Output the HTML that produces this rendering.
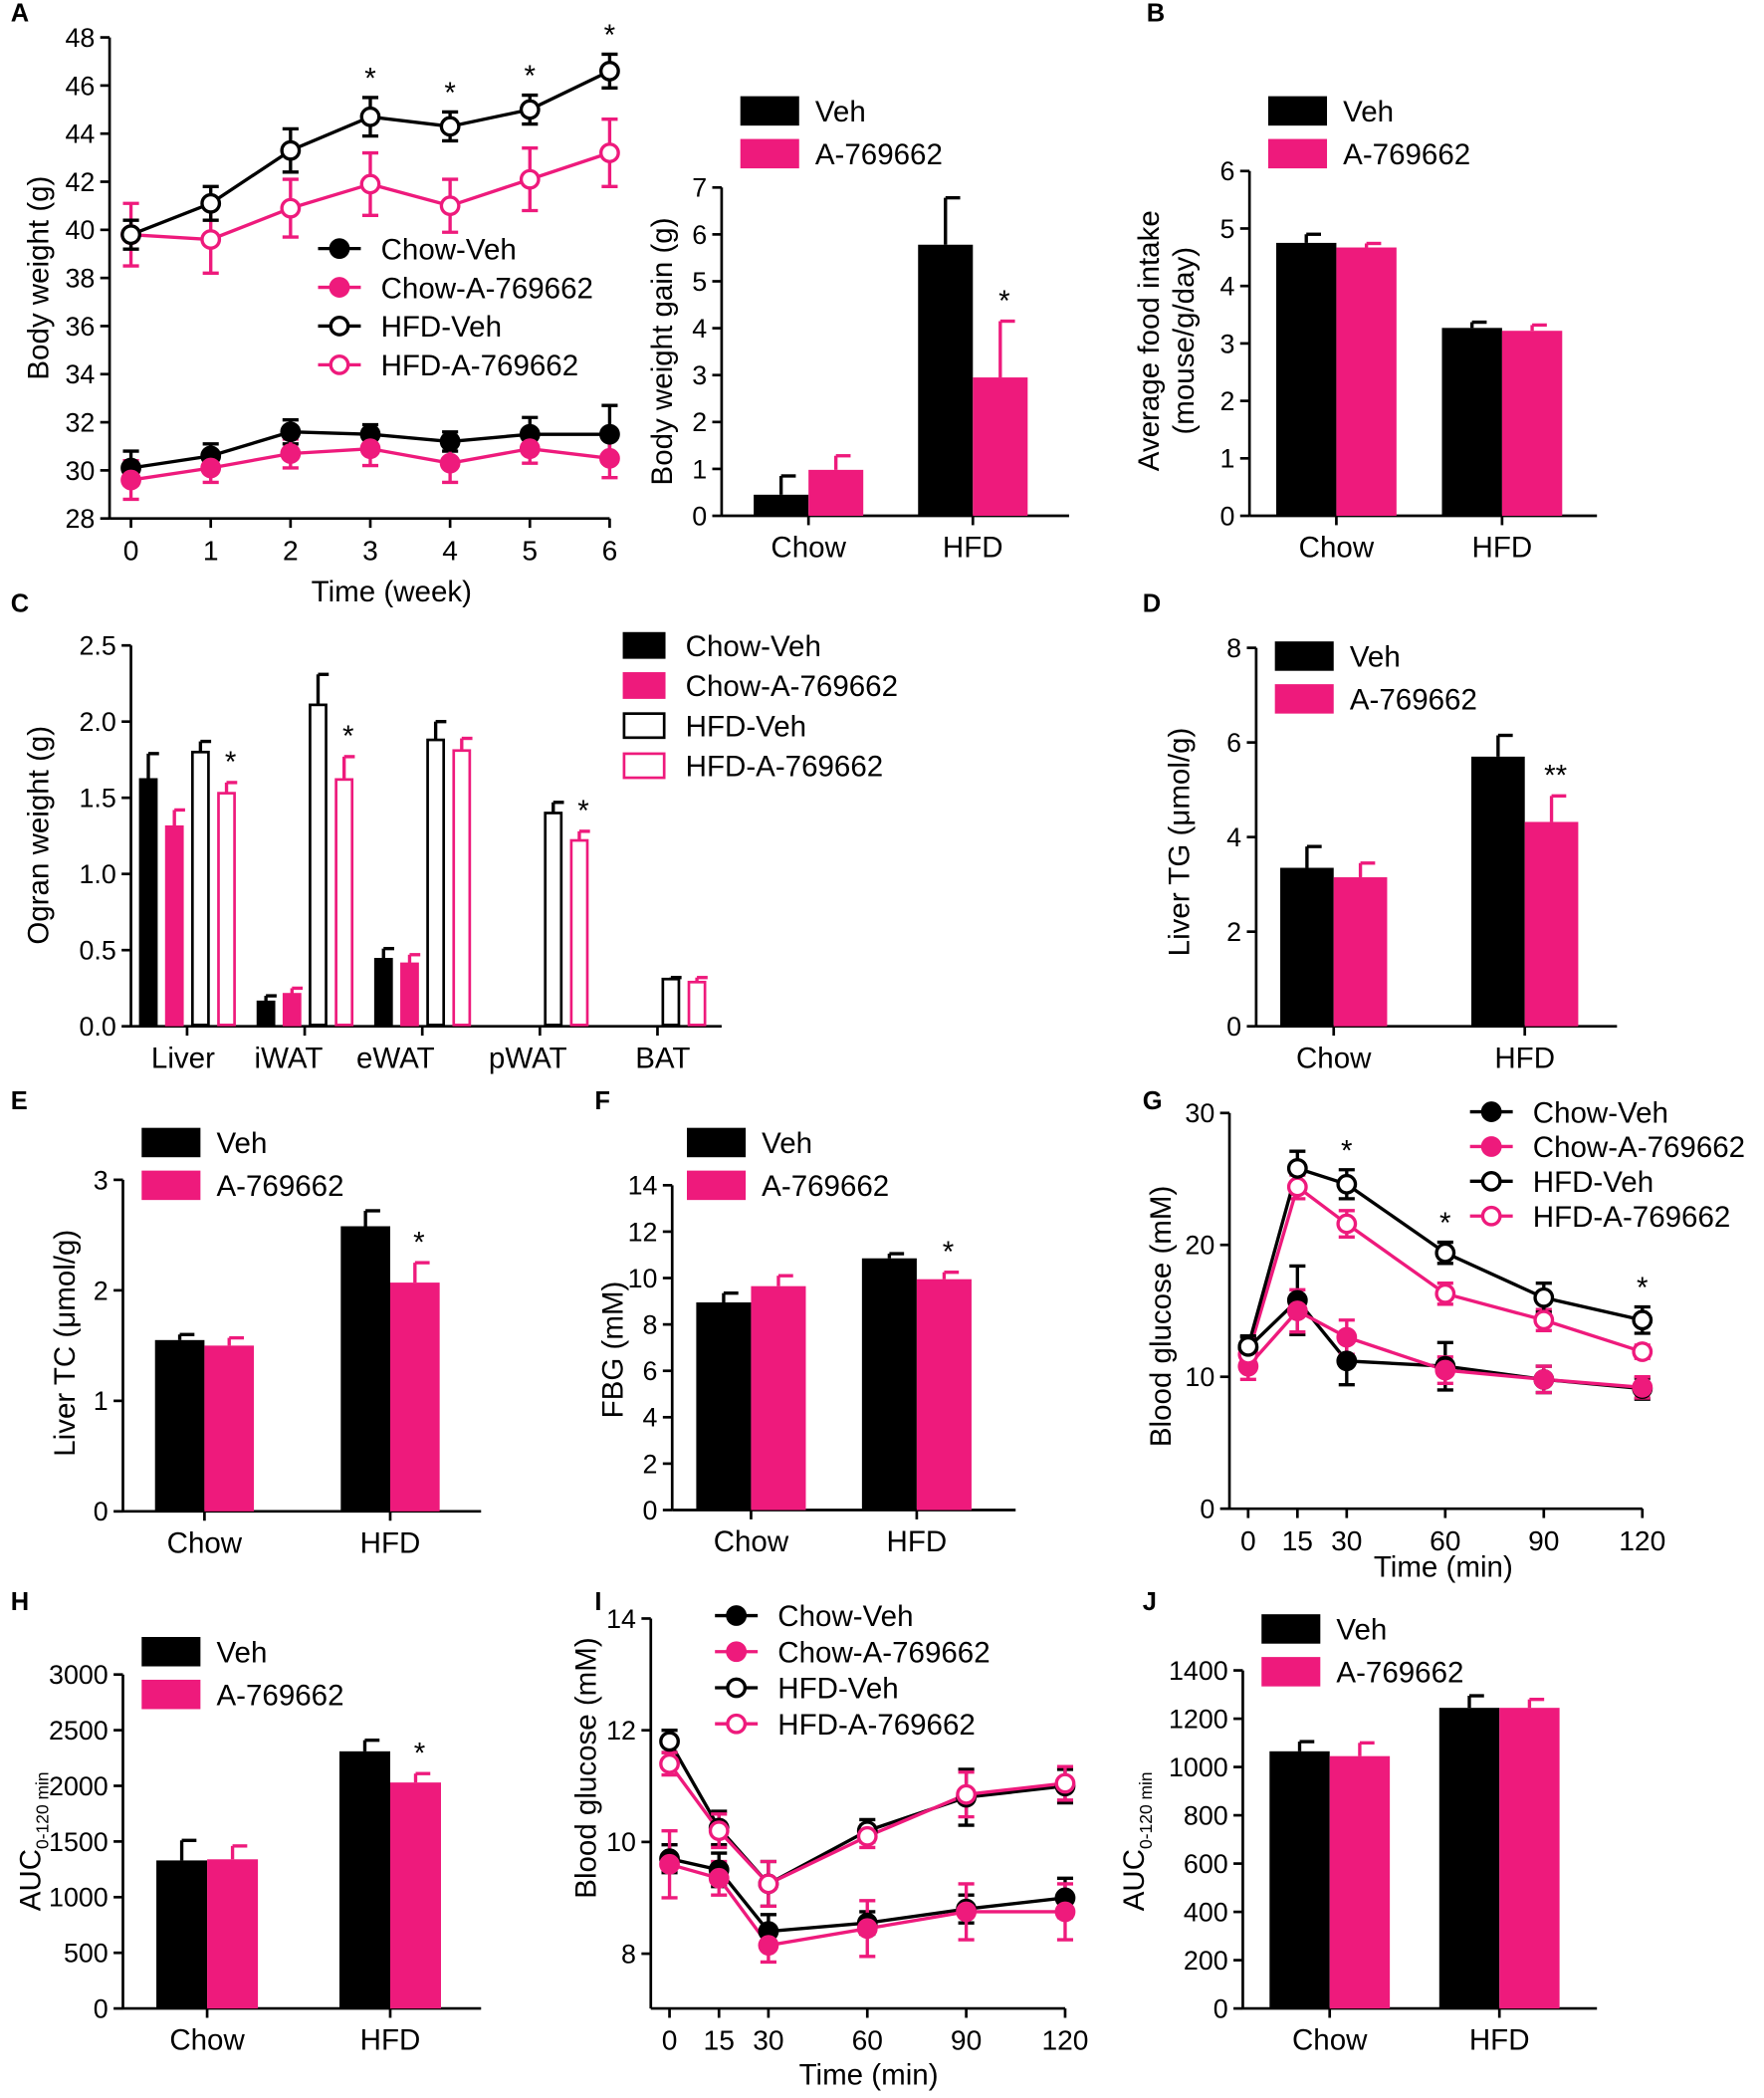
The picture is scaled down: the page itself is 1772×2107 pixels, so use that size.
<!DOCTYPE html>
<html><head><meta charset="utf-8">
<style>
html,body{margin:0;padding:0;background:#fff;}
svg{display:block;font-family:"Liberation Sans",Arial,sans-serif;}
</style></head>
<body>
<svg id="fig" width="1772" height="2107" viewBox="0 0 1320 1570" preserveAspectRatio="none" xmlns="http://www.w3.org/2000/svg"></svg>
<script>
const PINK = '#ee1a7c';
// ---------- DATA ----------
const weeks = [0,1,2,3,4,5,6];
const aChowVeh = [30.1,30.6,31.6,31.5,31.2,31.5,31.5];
const aChowVehErr = [0.7,0.5,0.5,0.4,0.4,0.7,1.2];
const aChowA = [29.6,30.1,30.7,30.9,30.3,30.9,30.5];
const aChowAErr = [0.8,0.6,0.6,0.7,0.8,0.6,0.8];
const aHfdVeh = [39.8,41.1,43.3,44.7,44.3,45.0,46.6];
const aHfdVehErr = [0.6,0.7,0.9,0.8,0.6,0.6,0.7];
const aHfdA = [39.8,39.6,40.9,41.9,41.0,42.1,43.2];
const aHfdAErr = [1.3,1.4,1.2,1.3,1.1,1.3,1.4];
const aStars = [3,4,5,6];
const aTicksY = [28,30,32,34,36,38,40,42,44,46,48];

const dietCats = ['Chow','HFD'];
const gainVeh = [0.45,5.78], gainVehErr=[0.4,1.0];
const gainA = [0.98,2.95], gainAErr=[0.3,1.2];
const gainTicks=[0,1,2,3,4,5,6,7];

const foodVeh=[4.75,3.27], foodVehErr=[0.15,0.1];
const foodA=[4.67,3.22], foodAErr=[0.07,0.1];
const foodTicks=[0,1,2,3,4,5,6];

const organCats=['Liver','iWAT','eWAT','pWAT','BAT'];
const orgChowVeh=[1.62,0.16,0.44,null,null], orgChowVehErr=[0.17,0.04,0.07,0,0];
const orgChowA=[1.31,0.21,0.41,null,null], orgChowAErr=[0.11,0.04,0.06,0,0];
const orgHfdVeh=[1.80,2.11,1.88,1.40,0.31], orgHfdVehErr=[0.07,0.2,0.12,0.07,0.01];
const orgHfdA=[1.53,1.62,1.81,1.22,0.29], orgHfdAErr=[0.07,0.15,0.08,0.06,0.03];
const orgStars=[true,true,false,true,false];
const orgTicks=['0.0','0.5','1.0','1.5','2.0','2.5'];

const tgVeh=[3.35,5.7], tgVehErr=[0.45,0.45];
const tgA=[3.15,4.32], tgAErr=[0.3,0.55];
const tgTicks=[0,2,4,6,8];

const tcVeh=[1.55,2.58], tcVehErr=[0.05,0.14];
const tcA=[1.5,2.07], tcAErr=[0.07,0.18];
const tcTicks=[0,1,2,3];

const fbgVeh=[8.95,10.85], fbgVehErr=[0.4,0.2];
const fbgA=[9.65,9.95], fbgAErr=[0.45,0.3];
const fbgTicks=[0,2,4,6,8,10,12,14];

const minutes=[0,15,30,60,90,120];
const gChowVeh=[12.2,15.8,11.2,10.8,9.8,9.1], gChowVehErr=[0.8,2.6,1.8,1.8,1.0,0.8];
const gChowA=[10.8,15.0,13.0,10.5,9.8,9.2], gChowAErr=[1.0,1.6,1.3,1.0,1.0,0.8];
const gHfdVeh=[12.3,25.8,24.6,19.4,16.0,14.3], gHfdVehErr=[0.8,1.3,1.1,0.8,1.1,1.0];
const gHfdA=[11.7,24.4,21.6,16.3,14.3,11.9], gHfdAErr=[0.8,0.9,1.0,0.8,0.8,0.5];
const gStars=[30,60,120];
const gTicksY=[0,10,20,30];

const hVeh=[1330,2310], hVehErr=[180,100];
const hA=[1340,2030], hAErr=[120,80];
const hTicks=[0,500,1000,1500,2000,2500,3000];

const iChowVeh=[9.7,9.5,8.4,8.55,8.8,9.0], iChowVehErr=[0.25,0.3,0.3,0.2,0.25,0.35];
const iChowA=[9.6,9.35,8.15,8.45,8.75,8.75], iChowAErr=[0.6,0.3,0.3,0.5,0.5,0.5];
const iHfdVeh=[11.8,10.25,9.25,10.2,10.8,11.0], iHfdVehErr=[0.2,0.3,0.4,0.2,0.5,0.3];
const iHfdA=[11.4,10.2,9.25,10.1,10.85,11.05], iHfdAErr=[0.2,0.3,0.4,0.2,0.4,0.3];
const iTicksY=[8,10,12,14];

const jVeh=[1065,1245], jVehErr=[40,50];
const jA=[1045,1245], jAErr=[55,35];
const jTicks=[0,200,400,600,800,1000,1200,1400];

// ---------- HELPERS ----------
const svg=document.getElementById('fig');
const NS='http://www.w3.org/2000/svg';
function mk(tag,attrs,parent){const e=document.createElementNS(NS,tag);for(const k in attrs)e.setAttribute(k,attrs[k]);(parent||svg).appendChild(e);return e;}
function txt(x,y,s,size,anchor,parent,extra){const t=mk('text',Object.assign({x:x,y:y,'font-size':size,'text-anchor':anchor||'middle',fill:'#000'},extra||{}),parent);t.textContent=s;return t;}
function line(x1,y1,x2,y2,col,w,parent){return mk('line',{x1,y1,x2,y2,stroke:col||'#000','stroke-width':w||2},parent);}

function yAxis(g,ax,ybot,ytop,ticks,scale,labels){
  const l=line(ax,ybot,ax,ytop,'#000',2,g);
  
  
  ticks.forEach((v,i)=>{const y=scale(+v);line(ax-7,y,ax,y,'#000',2,g);
    const t=txt(ax-11,y+7,labels?labels[i]:String(v),20,'end',g);
    
    });
}
function yTitle(g,x,y,s,size){const t=txt(x,y,s,size||22,'middle',g,{transform:`rotate(-90 ${x} ${y})`});
  
  return t;}
function aucTitle(g,x,y){
  const t=mk('text',{x:x,y:y,'font-size':22,'text-anchor':'middle',fill:'#000',transform:`rotate(-90 ${x} ${y})`},g);
  
  
  const a=mk('tspan',{},t);a.textContent='AUC';
  const b=mk('tspan',{'font-size':13,dy:6},t);b.textContent='0-120 min';
}
function letter(s,x,y){const t=txt(x,y,s,19,'start',svg,{'font-weight':'bold'});
  
  }

function legendBar(g,x,y,names,styles){
  names.forEach((n,i)=>{const yy=y+i*32;const st=styles[i];
    const r=mk('rect',{x:x,y:yy-10,width:st.w||42,height:20,fill:st.fill,stroke:st.stroke||st.fill,'stroke-width':2},g);
    
    
    const t=txt(x+(st.w||42)+13,yy+8,n,22,'start',g);
    
    });
}
function marker(g,x,y,col,open){const c=mk('circle',{cx:x,cy:y,r:6.5,fill:open?'#fff':col,stroke:col,'stroke-width':2.5},g);return c;}
function legendLine(g,x,y,step,names,cols,opens){
  names.forEach((n,i)=>{const yy=y+i*step;line(x,yy,x+32,yy,cols[i],2.5,g);marker(g,x+16,yy,cols[i],opens[i]);
    const t=txt(x+47,yy+8,n,22,'start',g);
    
    });
}

function barChart(name,cfg){
  const g=mk('g',{});
  
  
  const sy=v=>cfg.y0-(v-cfg.ymin)*cfg.ppu;
  yAxis(g,cfg.ax,cfg.y0,sy(cfg.ticks[cfg.ticks.length-1]),cfg.ticks,sy,cfg.tickLabels);
  const xa=line(cfg.ax,cfg.y0,cfg.xend,cfg.y0,'#000',2,g);
  
  
  cfg.cats.forEach((c,i)=>{const cx=cfg.c0+i*cfg.step;
    line(cx,cfg.y0,cx,cfg.y0+7,'#000',2,g);
    const t=txt(cx,cfg.y0+31,c,22,'middle',g);
    
    
    cfg.series.forEach((s,j)=>{const v=s.vals[i];if(v==null)return;
      const x0=cx+(j-cfg.series.length/2)*cfg.w;
      const yt=sy(v);
      const r=mk('rect',{x:x0,y:yt,width:cfg.w,height:cfg.y0-yt,fill:s.fill},g);
      
      
      const ye=sy(v+s.err[i]);const ex=x0+cfg.w/2;
      line(ex,yt,ex,ye,s.fill,2.5,g);line(ex,ye,ex+11,ye,s.fill,2.5,g);
      if(s.stars&&s.stars[i]){const st=txt(ex+3,ye-8,s.stars[i],22,'middle',g);
        
        }
    });
  });
  return g;
}

function lineChart(name,cfg){
  const g=mk('g',{});
  
  
  const sy=v=>cfg.y0-(v-cfg.ymin)*cfg.ppu;
  const sx=v=>cfg.x0+v*cfg.ppx;
  yAxis(g,cfg.ax,cfg.axBot,sy(cfg.ticksY[cfg.ticksY.length-1]),cfg.ticksY,sy);
  const xa=line(cfg.ax,cfg.axBot,sx(cfg.xs[cfg.xs.length-1]),cfg.axBot,'#000',2,g);
  
  
  cfg.xs.forEach(v=>{const x=sx(v);line(x,cfg.axBot,x,cfg.axBot+7,'#000',2,g);
    const t=txt(x,cfg.axBot+31,String(v),21,'middle',g);
    
    });
  cfg.series.forEach(s=>{
    const pts=cfg.xs.map((x,i)=>sx(x)+','+sy(s.vals[i])).join(' ');
    const pl=mk('polyline',{points:pts,fill:'none',stroke:s.col,'stroke-width':2.5},g);
    
    
    cfg.xs.forEach((x,i)=>{const px=sx(x),v=s.vals[i],e=s.err[i];
      line(px,sy(v-e),px,sy(v+e),s.col,2.5,g);
      line(px-6,sy(v-e),px+6,sy(v-e),s.col,2.5,g);line(px-6,sy(v+e),px+6,sy(v+e),s.col,2.5,g);
    });
  });
  cfg.series.forEach(s=>{cfg.xs.forEach((x,i)=>{const m=marker(g,sx(x),sy(s.vals[i]),s.col,s.open);
    
    });});
  if(cfg.stars){cfg.stars.forEach(x=>{const i=cfg.xs.indexOf(x);const s=cfg.starSeries;
    const st=txt(sx(x),sy(s.vals[i]+s.err[i])-7,'*',22,'middle',g);
    
    });}
  return g;
}

// ---------- PANEL A ----------
const serA=[
 {key:'chow-veh',vals:aChowVeh,err:aChowVehErr,col:'#000',open:false},
 {key:'chow-a769662',vals:aChowA,err:aChowAErr,col:PINK,open:false},
 {key:'hfd-a769662',vals:aHfdA,err:aHfdAErr,col:PINK,open:true},
 {key:'hfd-veh',vals:aHfdVeh,err:aHfdVehErr,col:'#000',open:true}];
const gA=lineChart('panel-a-body-weight',{ax:82,axBot:388,y0:388,ymin:28,ppu:18,x0:98,ppx:59.7,xs:weeks,ticksY:aTicksY,series:serA,stars:aStars,starSeries:serA[3]});
yTitle(gA,36,208,'Body weight (g)');
{const t=txt(293,450,'Time (week)',22,'middle',gA);}
legendLine(gA,238,186,29,['Chow-Veh','Chow-A-769662','HFD-Veh','HFD-A-769662'],['#000',PINK,'#000',PINK],[false,false,true,true]);
letter('A',8,16);

const gGain=barChart('panel-a-weight-gain',{ax:540,y0:386,ymin:0,ppu:35.1,xend:800,cats:dietCats,c0:605,step:123,w:41,ticks:gainTicks,
 series:[{key:'veh',vals:gainVeh,err:gainVehErr,fill:'#000'},{key:'a769662',vals:gainA,err:gainAErr,fill:PINK,stars:[null,'*']}]});
yTitle(gGain,503,263,'Body weight gain (g)');
legendBar(gGain,555,83,['Veh','A-769662'],[{fill:'#000'},{fill:PINK}]);

// ---------- PANEL B ----------
const gB=barChart('panel-b-food-intake',{ax:935,y0:386,ymin:0,ppu:43,xend:1195,cats:dietCats,c0:1000,step:124,w:45,ticks:foodTicks,
 series:[{key:'veh',vals:foodVeh,err:foodVehErr,fill:'#000'},{key:'a769662',vals:foodA,err:foodAErr,fill:PINK}]});
yTitle(gB,867,255,'Average food intake');
yTitle(gB,893,255,'(mouse/g/day)');
legendBar(gB,950,83,['Veh','A-769662'],[{fill:'#000'},{fill:PINK}]);
letter('B',858,16);

// ---------- PANEL C ----------
{
 const g=mk('g',{});
 
 
 const y0=768,ppu=114,ax=98;const sy=v=>y0-v*ppu;
 yAxis(g,ax,y0,sy(2.5),orgTicks,sy,orgTicks);
 line(ax,y0,540,y0,'#000',2,g);
 const ser=[{k:'chow-veh',v:orgChowVeh,e:orgChowVehErr,f:'#000',s:'#000'},{k:'chow-a769662',v:orgChowA,e:orgChowAErr,f:PINK,s:PINK},
   {k:'hfd-veh',v:orgHfdVeh,e:orgHfdVehErr,f:'#fff',s:'#000'},{k:'hfd-a769662',v:orgHfdA,e:orgHfdAErr,f:'#fff',s:PINK}];
 const labX=[137,216,296,395,496];
 organCats.forEach((c,i)=>{const cx=140+i*88;
   line(cx,y0,cx,y0+7,'#000',2,g);
   const t=txt(labX[i],y0+31,c,22,'middle',g);
   
   
   ser.forEach((s,j)=>{const v=s.v[i];if(v==null)return;
     const x0=cx-36+j*19.5;const w=14;const yt=sy(v);
     const r=mk('rect',{x:x0+1,y:yt,width:w-2,height:y0-yt-1,fill:s.f,stroke:s.s,'stroke-width':2},g);
     
     
     const ye=sy(v+s.e[i]);const ex=x0+w/2;
     line(ex,yt,ex,ye,s.s,2.5,g);line(ex,ye,ex+8,ye,s.s,2.5,g);
     if(j==3&&orgStars[i]){const st=txt(ex+3,ye-8,'*',22,'middle',g);
       
       }
   });
 });
 yTitle(g,36,625,'Ogran weight (g)');
 ['Chow-Veh','Chow-A-769662','HFD-Veh','HFD-A-769662'].forEach((n,i)=>{const yy=483+i*30;const st=ser[i];
   const r=mk('rect',{x:467,y:yy-9,width:30,height:18,fill:st.f,stroke:st.s,'stroke-width':2},g);
   
   
   const t=txt(513,yy+8,n,22,'start',g);
   
   });
 letter('C',8,458);
}

// ---------- PANEL D ----------
const gD=barChart('panel-d-liver-tg',{ax:940,y0:768,ymin:0,ppu:35.4,xend:1210,cats:dietCats,c0:998,step:143,w:40,ticks:tgTicks,
 series:[{key:'veh',vals:tgVeh,err:tgVehErr,fill:'#000'},{key:'a769662',vals:tgA,err:tgAErr,fill:PINK,stars:[null,'**']}]});
yTitle(gD,890,630,'Liver TG (μmol/g)');
legendBar(gD,955,491,['Veh','A-769662'],[{fill:'#000'},{fill:PINK}]);
letter('D',855,458);

// ---------- PANEL E ----------
const gE=barChart('panel-e-liver-tc',{ax:92,y0:1131,ymin:0,ppu:82.7,xend:360,cats:dietCats,c0:153,step:139,w:37,ticks:tcTicks,
 series:[{key:'veh',vals:tcVeh,err:tcVehErr,fill:'#000'},{key:'a769662',vals:tcA,err:tcAErr,fill:PINK,stars:[null,'*']}]});
yTitle(gE,56,1005,'Liver TC (μmol/g)');
legendBar(gE,107,855,['Veh','A-769662'],[{fill:'#000'},{fill:PINK}]);
letter('E',8,830);

// ---------- PANEL F ----------
const gF=barChart('panel-f-fbg',{ax:503,y0:1130,ymin:0,ppu:17.36,xend:760,cats:dietCats,c0:562,step:124,w:41,ticks:fbgTicks,
 series:[{key:'veh',vals:fbgVeh,err:fbgVehErr,fill:'#000'},{key:'a769662',vals:fbgA,err:fbgAErr,fill:PINK,stars:[null,'*']}]});
yTitle(gF,466,1010,'FBG (mM)');
legendBar(gF,515,855,['Veh','A-769662'],[{fill:'#000'},{fill:PINK}]);
letter('F',445,830);

// ---------- PANEL G ----------
const serG=[
 {key:'chow-veh',vals:gChowVeh,err:gChowVehErr,col:'#000',open:false},
 {key:'chow-a769662',vals:gChowA,err:gChowAErr,col:PINK,open:false},
 {key:'hfd-a769662',vals:gHfdA,err:gHfdAErr,col:PINK,open:true},
 {key:'hfd-veh',vals:gHfdVeh,err:gHfdVehErr,col:'#000',open:true}];
const gG=lineChart('panel-g-gtt',{ax:920,axBot:1129,y0:1129,ymin:0,ppu:9.87,x0:934,ppx:2.458,xs:minutes,ticksY:gTicksY,series:serG,stars:gStars,starSeries:serG[3]});
yTitle(gG,876,985,'Blood glucose (mM)');
{const t=txt(1080,1180,'Time (min)',22,'middle',gG);}
legendLine(gG,1100,832,26,['Chow-Veh','Chow-A-769662','HFD-Veh','HFD-A-769662'],['#000',PINK,'#000',PINK],[false,false,true,true]);
letter('G',855,830);

// ---------- PANEL H ----------
const gH=barChart('panel-h-auc',{ax:92,y0:1503,ymin:0,ppu:0.0833,xend:360,cats:dietCats,c0:155,step:137,w:38,ticks:hTicks,
 series:[{key:'veh',vals:hVeh,err:hVehErr,fill:'#000'},{key:'a769662',vals:hA,err:hAErr,fill:PINK,stars:[null,'*']}]});
aucTitle(gH,30,1378);
legendBar(gH,107,1236,['Veh','A-769662'],[{fill:'#000'},{fill:PINK}]);
letter('H',8,1205);

// ---------- PANEL I ----------
const serI=[
 {key:'chow-veh',vals:iChowVeh,err:iChowVehErr,col:'#000',open:false},
 {key:'chow-a769662',vals:iChowA,err:iChowAErr,col:PINK,open:false},
 {key:'hfd-veh',vals:iHfdVeh,err:iHfdVehErr,col:'#000',open:true},
 {key:'hfd-a769662',vals:iHfdA,err:iHfdAErr,col:PINK,open:true}];
const gI=lineChart('panel-i-itt',{ax:487,axBot:1503,y0:1462,ymin:8,ppu:41.8,x0:501,ppx:2.467,xs:minutes,ticksY:iTicksY,series:serI});
yTitle(gI,446,1323,'Blood glucose (mM)');
{const t=txt(650,1560,'Time (min)',22,'middle',gI);}
legendLine(gI,535,1209,27,['Chow-Veh','Chow-A-769662','HFD-Veh','HFD-A-769662'],['#000',PINK,'#000',PINK],[false,false,true,true]);
letter('I',445,1205);

// ---------- PANEL J ----------
const gJ=barChart('panel-j-auc',{ax:930,y0:1503,ymin:0,ppu:0.1807,xend:1195,cats:dietCats,c0:995,step:127,w:45,ticks:jTicks,
 series:[{key:'veh',vals:jVeh,err:jVehErr,fill:'#000'},{key:'a769662',vals:jA,err:jAErr,fill:PINK}]});
aucTitle(gJ,856,1378);
legendBar(gJ,945,1219,['Veh','A-769662'],[{fill:'#000'},{fill:PINK}]);
letter('J',855,1205);
</script>
</body></html>
